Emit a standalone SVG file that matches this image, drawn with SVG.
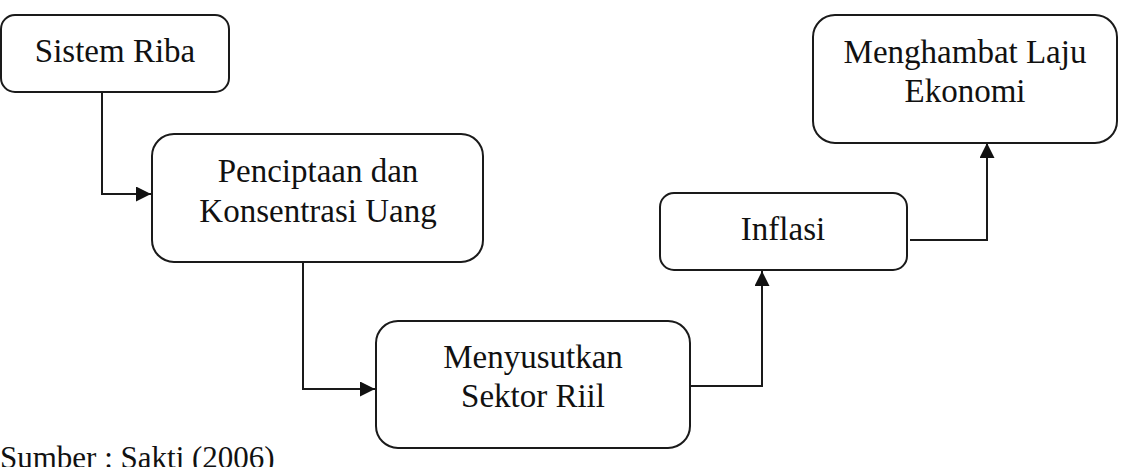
<svg xmlns="http://www.w3.org/2000/svg" width="1126" height="467" viewBox="0 0 1126 467">
<style>
.box{fill:#fff;stroke:#1a1a1a;stroke-width:2}
.lbl{font-family:"Liberation Serif","Times New Roman",serif;font-size:33px;fill:#111;text-anchor:middle}
.cap{font-family:"Liberation Serif","Times New Roman",serif;font-size:31px;fill:#111}
.edge{fill:none;stroke:#1a1a1a;stroke-width:2}
</style>
<defs>
<marker id="arr" viewBox="0 0 10 10" refX="10" refY="5" markerWidth="15" markerHeight="15" markerUnits="userSpaceOnUse" orient="auto">
<path d="M0,0 L10,5 L0,10 z" fill="#111"/>
</marker>
</defs>
<rect width="1126" height="467" fill="#fff"/>
<g id="connectors">
<path class="edge" d="M102,92 V194 H151" marker-end="url(#arr)"/>
<path class="edge" d="M303,258 V389 H375" marker-end="url(#arr)"/>
<path class="edge" d="M690,386 H762 V271" marker-end="url(#arr)"/>
<path class="edge" d="M910,240 H987 V143" marker-end="url(#arr)"/>
</g>
<g id="sistem-riba">
<rect class="box" x="1" y="15" width="228" height="77" rx="14"/>
<text class="lbl" x="115" y="62">Sistem Riba</text>
</g>
<g id="penciptaan">
<rect class="box" x="152" y="134" width="331" height="128" rx="22"/>
<text class="lbl" x="318" y="182">Penciptaan dan</text>
<text class="lbl" x="318" y="222">Konsentrasi Uang</text>
</g>
<g id="menyusutkan">
<rect class="box" x="376" y="321" width="314" height="127" rx="22"/>
<text class="lbl" x="533" y="368">Menyusutkan</text>
<text class="lbl" x="533" y="407">Sektor Riil</text>
</g>
<g id="inflasi">
<rect class="box" x="660" y="193" width="247" height="77" rx="14"/>
<text class="lbl" x="783" y="240">Inflasi</text>
</g>
<g id="menghambat">
<rect class="box" x="813" y="15" width="304" height="128" rx="22"/>
<text class="lbl" x="965" y="63">Menghambat Laju</text>
<text class="lbl" x="965" y="102">Ekonomi</text>
</g>
<text class="cap" x="0" y="468">Sumber : Sakti (2006)</text>
</svg>
